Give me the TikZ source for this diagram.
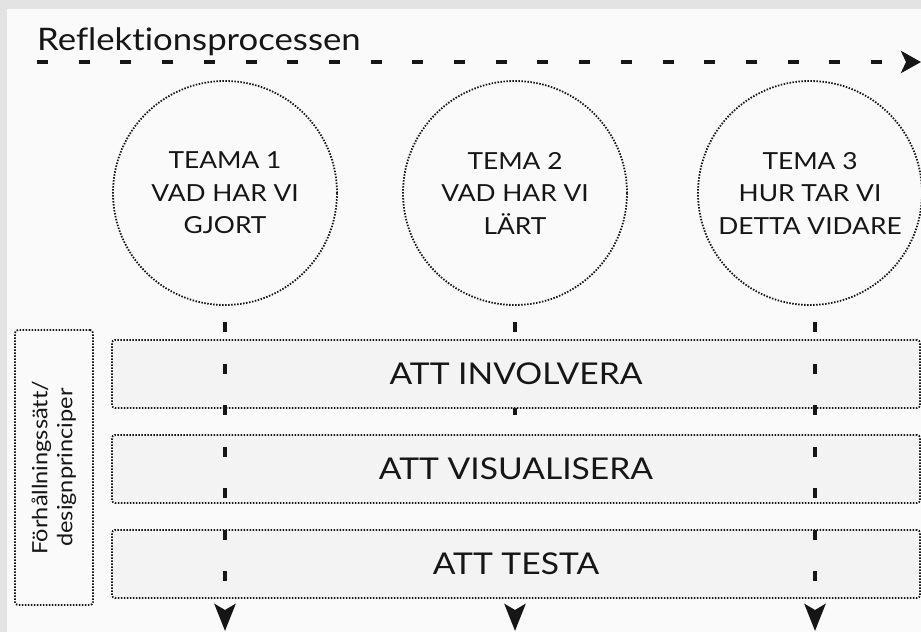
\documentclass[tikz,border=0pt]{standalone}
\usepackage{fontspec}
\setmainfont{Lato}[FakeStretch=1.12, Ligatures=NoCommon]
\usetikzlibrary{arrows.meta}
\definecolor{pagebg}{HTML}{E3E3E3}
\definecolor{panel}{HTML}{FAFAFA}
\definecolor{bandfill}{HTML}{F3F3F3}
\definecolor{ink}{HTML}{161616}
\begin{document}
\begin{tikzpicture}[x=1pt,y=-1pt,
  dotline/.style={draw=ink, line width=1.8pt, dash pattern=on 1.5pt off 1.5pt},
  theme/.style={circle, dotline, minimum size=224pt, inner sep=0pt, align=center,
    font=\fontsize{23.5}{32.5}\selectfont, text=ink},
  bandbox/.style={dotline, fill=bandfill, rounded corners=3pt, minimum width=808pt,
    minimum height=68pt, inner sep=0pt, font=\fontsize{30}{36}\selectfont, text=ink},
  sidebox/.style={dotline, fill=panel, rounded corners=3pt, minimum width=78pt,
    minimum height=275pt, inner sep=0pt},
  flow/.style={draw=ink, line width=4.5pt, dash pattern=on 10pt off 31.5pt,
    -{Stealth[length=27pt,width=21pt,inset=6pt]}},
  timeline/.style={draw=ink, line width=4.5pt, dash pattern=on 11pt off 30.7pt,
    -{Stealth[length=20pt,width=22pt,inset=5pt]}}
]
% page and panel
\fill[pagebg] (0,0) rectangle (921,632);
\fill[panel] (7,9) rectangle (921,632);
\useasboundingbox (0,0) rectangle (921,632);

% title and the process timeline
\node[anchor=base west, inner sep=0pt, font=\fontsize{31}{36}\selectfont, text=ink]
  (title) at (37,50) {Reflektionsprocessen};
\coordinate (tlstart) at (37,62);
\coordinate (tlend) at (921,62);
\draw[timeline] (tlstart) -- (tlend);

% the three themes
\node[theme] (c1) at (225,193) {TEAMA 1\\VAD HAR VI\\GJORT};
\node[theme] (c2) at (515,193) {TEMA 2\\VAD HAR VI\\LÄRT};
\node[theme] (c3) at (810,193) {TEMA 3\\HUR TAR VI\\DETTA VIDARE};

% flow coordinates below each theme
\coordinate (f1a) at (225,322);
\coordinate (f1b) at (225,631);
\coordinate (f2a) at (515,322);
\coordinate (f2b) at (515,631);
\coordinate (f3a) at (815,322);
\coordinate (f3b) at (815,631);

% middle flow runs beneath the bands
\draw[flow] (f2a) -- (f2b);

% design principles
\node[bandbox] (b1) at (516,374) {ATT INVOLVERA};
\node[bandbox] (b2) at (516,469) {ATT VISUALISERA};
\node[bandbox] (b3) at (516,564) {ATT TESTA};

% side label
\node[sidebox] (side) at (54,467.5) {};
\node[rotate=90, align=center, text=ink, font=\fontsize{21}{25}\selectfont]
  (sidetext) at (side.center) {Förhållningssätt/\\designprinciper};

% outer flows run over the bands
\draw[flow] (f1a) -- (f1b);
\draw[flow] (f3a) -- (f3b);
\end{tikzpicture}
\end{document}
